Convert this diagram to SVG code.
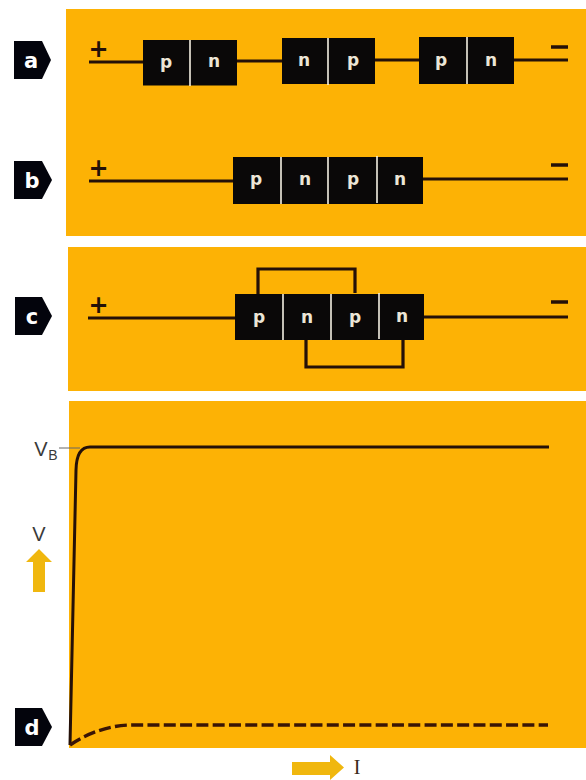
<svg xmlns="http://www.w3.org/2000/svg" width="586" height="780" viewBox="0 0 586 780">
<style>
.panel{fill:#fdb205}
.wire{fill:none;stroke:#241008;stroke-width:3.2}
.curve{fill:none;stroke:#241008;stroke-width:3}
.dash{fill:none;stroke:#3a1505;stroke-width:3.4;stroke-dasharray:12 4.3}
.box{fill:#0a0808}
.sep{fill:none;stroke:#f4efe2;stroke-width:1.6}
.l{font-family:"DejaVu Sans",sans-serif;font-size:17px;font-weight:600;fill:#ece6d6;text-anchor:middle}
.tag{fill:#03040c}
.tl{font-family:"DejaVu Sans",sans-serif;font-size:21px;font-weight:bold;fill:#fff;text-anchor:middle}
.sign{font-family:"DejaVu Sans",sans-serif;font-size:24px;font-weight:bold;fill:#241008;text-anchor:middle}
.ax{font-family:"Liberation Sans",sans-serif;fill:#3a3a3a;text-anchor:middle}
.v{font-size:20px}
.sub{font-size:14px}
.i{font-family:"Liberation Serif",serif;font-size:20px;fill:#3a2a1a;text-anchor:middle}
.arr{fill:#f0b70e}
.tick{fill:none;stroke:#666;stroke-width:1}
.minus{fill:none;stroke:#241008;stroke-width:3.5}
</style>
<rect class="panel" x="66" y="9" width="520" height="227"/>
<rect class="panel" x="68" y="247" width="518" height="144"/>
<rect class="panel" x="69" y="401" width="517" height="347"/>
<g id="connectors">
<path class="wire" d="M89 62H144M237 61H283M375 60H420M514 60H568"/>
<path class="wire" d="M89 181H234M423 179H568"/>
<path class="wire" d="M88 318H236M424 317H568"/>
<path class="wire" d="M258 295V269H355V293"/>
<path class="wire" d="M306 340V367H403V340"/>
</g>
<g id="node-a"><rect class="box" x="143" y="40" width="94" height="45.500"/><rect class="box" x="282" y="38" width="93" height="46"/><rect class="box" x="419" y="37" width="95" height="47"/>
<path class="sep" d="M190 40V86M328 38V85M467 37V84"/>
<text class="l" x="166" y="68">p</text><text class="l" x="214" y="67">n</text><text class="l" x="304" y="66">n</text><text class="l" x="353" y="66">p</text><text class="l" x="441" y="66">p</text><text class="l" x="491" y="66">n</text></g>
<g id="node-b"><rect class="box" x="233" y="157" width="190" height="47"/>
<path class="sep" d="M281 157V204M328 157V204M377 156V203"/>
<text class="l" x="256" y="185">p</text><text class="l" x="305" y="185">n</text><text class="l" x="353" y="185">p</text><text class="l" x="400" y="185">n</text></g>
<g id="node-c"><rect class="box" x="235" y="294" width="189" height="46"/>
<path class="sep" d="M283 294V340M331 294V340M379 293V339"/>
<text class="l" x="259" y="323">p</text><text class="l" x="307" y="323">n</text><text class="l" x="355" y="323">p</text><text class="l" x="402" y="322">n</text></g>
<g id="signs">
<text class="sign" x="98.500" y="57">+</text><text class="sign" x="98.500" y="176">+</text><text class="sign" x="98.500" y="313">+</text>
<path class="minus" d="M551 47H568M551 165H568M551 302H568"/>
</g>
<g id="tag-a"><path class="tag" d="M14 41H42L51 60L42 79H14Z"/><text class="tl" x="31" y="68">a</text></g>
<g id="tag-b"><path class="tag" d="M14 161H42L52 180L42 199H14Z"/><text class="tl" x="32" y="188">b</text></g>
<g id="tag-c"><path class="tag" d="M15 297H42L52 316L42 335H15Z"/><text class="tl" x="32" y="324">c</text></g>
<g id="tag-d"><path class="tag" d="M15 708H42L52 727L42 746H15Z"/><text class="tl" x="32" y="735">d</text></g>
<g id="curves">
<path class="tick" d="M59 448H80"/>
<path class="curve" d="M70 745L76 470Q76.500 447 90 447H549"/>
<path class="dash" d="M70 745Q100 725 133 725H548"/>
</g>
<g id="axes">
<text class="ax v" x="41" y="456">V</text><text class="ax sub" x="53" y="460">B</text>
<text class="ax v" x="39" y="541">V</text>
<path class="arr" d="M39 549L52 562H45V592H33V562H26Z"/>
<path class="arr" d="M292 762H330V755L344 767.500L330 780V775H292Z"/>
<text class="i" x="357" y="774">I</text>
</g>
</svg>
